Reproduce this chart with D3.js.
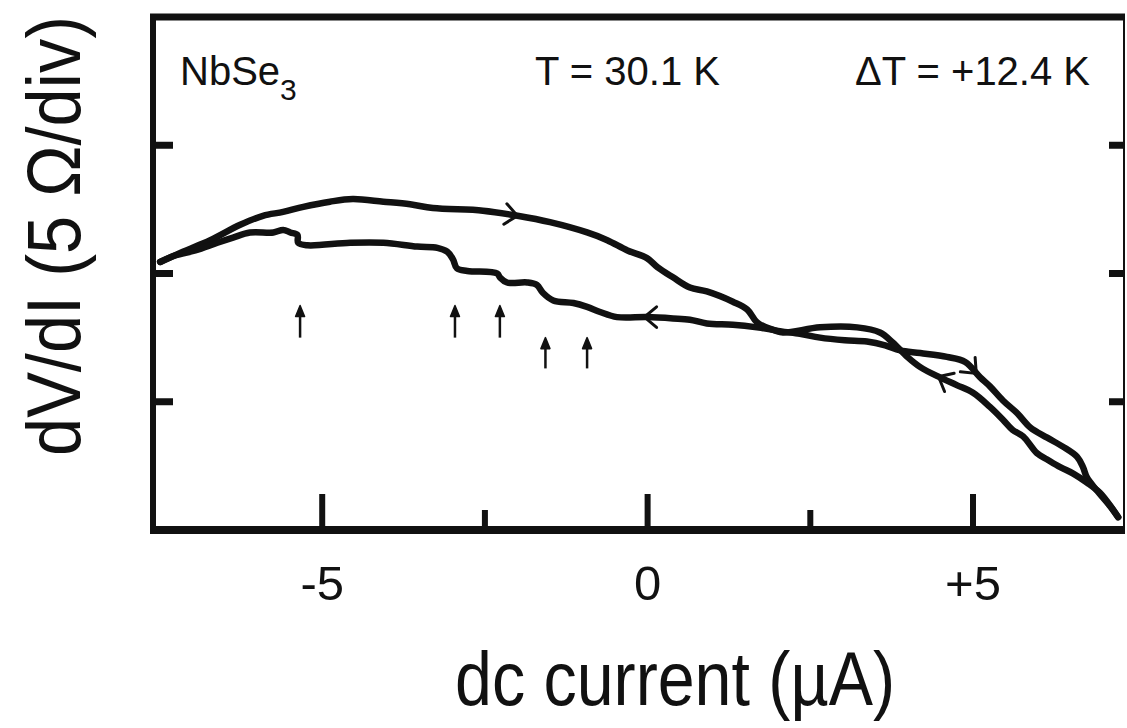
<!DOCTYPE html>
<html lang="en">
<head>
<meta charset="utf-8">
<title>NbSe3 dV/dI</title>
<script src="https://d3js.org/d3.v7.min.js"></script>
<style>
  body { margin: 0; background: #fff; }
  .lbl { font-family: "Liberation Sans", Arial, sans-serif; fill: #111; }
</style>
</head>
<body>
<div id="chart"></div>
<script>
var width = 1127, height = 728;

// x ticks (µA) and labels
var xTicks = [-5, 0, 5];
var xTickLabels = ["-5", "0", "+5"];
var xMinorTicks = [-2.5, 2.5];
// y divisions (5 Ω per div)
var yTicks = [1, 2, 3];

// forward sweep (left -> right), [current µA, dV/dI in div]
var forwardX = [-7.49, -7.14, -6.72, -6.26, -5.91, -5.60, -5.29, -4.88, -4.53, -4.06, -3.65, -3.30, -2.53, -2.00, -1.50, -0.93, -0.62, -0.31, -0.01, 0.15, 0.39, 0.65, 0.91, 1.31, 1.53, 1.68, 1.93, 2.34, 2.65, 3.03, 3.37, 3.65, 3.88, 4.19, 4.60, 4.88, 5.11, 5.26, 5.46, 5.68, 5.88, 6.14, 6.38, 6.60, 6.69, 6.75, 6.90, 7.10, 7.23];
var forwardY = [2.09, 2.17, 2.26, 2.38, 2.45, 2.48, 2.52, 2.56, 2.58, 2.56, 2.54, 2.51, 2.49, 2.45, 2.40, 2.32, 2.26, 2.18, 2.12, 2.05, 1.97, 1.89, 1.86, 1.78, 1.72, 1.62, 1.56, 1.53, 1.50, 1.48, 1.47, 1.44, 1.40, 1.38, 1.35, 1.31, 1.19, 1.12, 1.01, 0.91, 0.80, 0.72, 0.65, 0.57, 0.49, 0.41, 0.31, 0.19, 0.10];

// return sweep (right -> left)
var returnX = [7.23, 7.15, 6.95, 6.75, 6.54, 6.34, 6.14, 5.98, 5.77, 5.61, 5.46, 5.26, 5.00, 4.75, 4.49, 4.19, 3.99, 3.77, 3.57, 3.22, 2.65, 2.08, 1.93, 1.68, 1.31, 0.91, 0.65, 0.39, -0.01, -0.47, -0.73, -0.93, -1.14, -1.45, -1.61, -1.70, -1.85, -2.16, -2.27, -2.31, -2.77, -2.93, -2.99, -3.08, -3.23, -3.54, -4.06, -4.57, -5.23, -5.37, -5.38, -5.49, -5.60, -5.75, -6.11, -6.37, -6.61, -6.95, -7.26, -7.49];
var returnY = [0.10, 0.16, 0.29, 0.37, 0.44, 0.49, 0.55, 0.60, 0.73, 0.78, 0.86, 0.96, 1.07, 1.13, 1.19, 1.27, 1.35, 1.46, 1.54, 1.58, 1.58, 1.54, 1.56, 1.58, 1.60, 1.61, 1.64, 1.65, 1.66, 1.66, 1.70, 1.74, 1.77, 1.79, 1.85, 1.91, 1.93, 1.93, 1.97, 2.00, 2.02, 2.04, 2.11, 2.17, 2.20, 2.21, 2.24, 2.24, 2.22, 2.24, 2.30, 2.32, 2.34, 2.32, 2.32, 2.28, 2.24, 2.18, 2.14, 2.09];

// sweep direction arrows on the curves
var forwardArrowX = [-2.0, 5.05];
var returnArrowX = [-0.05, 4.47];

// step markers (vertical arrows): x, tip, tail (div)
var markerX = [-5.34, -2.96, -2.27, -1.57, -0.93];
var markerTip = [1.75, 1.75, 1.75, 1.50, 1.50];
var markerTail = [1.50, 1.50, 1.50, 1.26, 1.26];

var plotLeft = 153, plotRight = 1124, plotTop = 17, plotBottom = 530;

var x = d3.scaleLinear().domain([-7.6, 7.32]).range([plotLeft, plotRight]);
var y = d3.scaleLinear().domain([0, 4]).range([plotBottom, plotTop]);

var svg = d3.select("#chart").append("svg")
  .attr("width", width).attr("height", height);

svg.append("rect").attr("width", width).attr("height", height).attr("fill", "#fff");

// frame
var ink = "#111";
svg.append("line").attr("x1", plotLeft - 3).attr("x2", plotRight + 1).attr("y1", plotTop).attr("y2", plotTop)
  .attr("stroke", ink).attr("stroke-width", 7);
svg.append("line").attr("x1", plotLeft - 3).attr("x2", plotRight + 1).attr("y1", plotBottom).attr("y2", plotBottom)
  .attr("stroke", ink).attr("stroke-width", 8);
svg.append("line").attr("x1", plotLeft).attr("x2", plotLeft).attr("y1", plotTop).attr("y2", plotBottom)
  .attr("stroke", ink).attr("stroke-width", 6);
svg.append("line").attr("x1", plotRight).attr("x2", plotRight).attr("y1", plotTop).attr("y2", plotBottom)
  .attr("stroke", ink).attr("stroke-width", 2);

// bottom ticks
svg.selectAll("line.xmaj").data(xTicks).enter().append("line")
  .attr("class", "xmaj")
  .attr("x1", function(d) { return x(d); }).attr("x2", function(d) { return x(d); })
  .attr("y1", plotBottom).attr("y2", plotBottom - 36)
  .attr("stroke", ink).attr("stroke-width", 6);
svg.selectAll("line.xmin").data(xMinorTicks).enter().append("line")
  .attr("class", "xmin")
  .attr("x1", function(d) { return x(d); }).attr("x2", function(d) { return x(d); })
  .attr("y1", plotBottom).attr("y2", plotBottom - 20)
  .attr("stroke", ink).attr("stroke-width", 6);

// side ticks
svg.selectAll("line.yl").data(yTicks).enter().append("line")
  .attr("class", "yl")
  .attr("x1", plotLeft).attr("x2", plotLeft + 20)
  .attr("y1", function(d) { return y(d); }).attr("y2", function(d) { return y(d); })
  .attr("stroke", ink).attr("stroke-width", 7);
svg.selectAll("line.yr").data(yTicks).enter().append("line")
  .attr("class", "yr")
  .attr("x1", plotRight - 15).attr("x2", plotRight)
  .attr("y1", function(d) { return y(d); }).attr("y2", function(d) { return y(d); })
  .attr("stroke", ink).attr("stroke-width", 7);

// tick labels
svg.selectAll("text.xl").data(xTicks).enter().append("text")
  .attr("class", "lbl xl")
  .attr("x", function(d) { return x(d); })
  .attr("y", 600)
  .attr("text-anchor", "middle")
  .attr("font-size", 49)
  .text(function(d, i) { return xTickLabels[i]; });

// axis titles
svg.append("text").attr("class", "lbl")
  .attr("x", 675).attr("y", 705)
  .attr("text-anchor", "middle")
  .attr("font-size", 76)
  .attr("textLength", 440).attr("lengthAdjust", "spacingAndGlyphs")
  .text("dc current (\u00B5A)");

svg.append("text").attr("class", "lbl")
  .attr("transform", "translate(80,236) rotate(-90)")
  .attr("text-anchor", "middle")
  .attr("font-size", 76)
  .attr("textLength", 440).attr("lengthAdjust", "spacingAndGlyphs")
  .text("dV/dI (5 \u03A9/div)");

// annotations
var nb = svg.append("text").attr("class", "lbl")
  .attr("x", 180).attr("y", 85).attr("font-size", 40);
nb.append("tspan").text("NbSe");
nb.append("tspan").attr("font-size", 30).attr("dy", 15).text("3");

svg.append("text").attr("class", "lbl")
  .attr("x", 535).attr("y", 85).attr("font-size", 40)
  .text("T = 30.1 K");
svg.append("text").attr("class", "lbl")
  .attr("x", 855).attr("y", 85).attr("font-size", 40)
  .text("\u0394T = +12.4 K");

// curves
var line = d3.line()
  .x(function(d) { return x(d[0]); })
  .y(function(d) { return y(d[1]); })
  .curve(d3.curveCatmullRom.alpha(0.5));

var forward = forwardX.map(function(v, i) { return [v, forwardY[i]]; });
var back = returnX.map(function(v, i) { return [v, returnY[i]]; });

[forward, back].forEach(function(pts) {
  svg.append("path")
    .attr("d", line(pts))
    .attr("fill", "none")
    .attr("stroke", ink)
    .attr("stroke-width", 6.5)
    .attr("stroke-linejoin", "round")
    .attr("stroke-linecap", "round");
});

// chevron along the curve at given x, pointing in sweep direction
function chevron(pts, xv, dir) {
  var i = 0;
  for (var k = 0; k < pts.length - 1; k++) {
    var a = pts[k][0], b = pts[k + 1][0];
    if ((xv - a) * (xv - b) <= 0) { i = k; break; }
  }
  var p0 = pts[i], p1 = pts[i + 1];
  var t = (xv - p0[0]) / (p1[0] - p0[0]);
  var yv = p0[1] + t * (p1[1] - p0[1]);
  var px = x(xv), py = y(yv);
  var ang = Math.atan2(y(p1[1]) - y(p0[1]), x(p1[0]) - x(p0[0]));
  if (Math.cos(ang) * dir < 0) ang += Math.PI;
  var len = 16, spread = 0.7;
  var a1 = ang + Math.PI - spread, a2 = ang + Math.PI + spread;
  var d = "M" + (px + len * Math.cos(a1)) + "," + (py + len * Math.sin(a1)) +
          "L" + px + "," + py +
          "L" + (px + len * Math.cos(a2)) + "," + (py + len * Math.sin(a2));
  svg.append("path").attr("d", d).attr("fill", "none")
    .attr("stroke", ink).attr("stroke-width", 3).attr("stroke-linecap", "round");
}
forwardArrowX.forEach(function(v) { chevron(forward, v, 1); });
returnArrowX.forEach(function(v) { chevron(back, v, -1); });

// step markers
markerX.forEach(function(v, i) {
  var px = x(v), ty = y(markerTip[i]), by = y(markerTail[i]);
  svg.append("line").attr("x1", px).attr("x2", px).attr("y1", ty + 8).attr("y2", by)
    .attr("stroke", ink).attr("stroke-width", 2.5);
  svg.append("path")
    .attr("d", "M" + (px - 4.5) + "," + (ty + 11) + "L" + px + "," + ty + "L" + (px + 4.5) + "," + (ty + 11) + "Z")
    .attr("fill", ink).attr("stroke", ink).attr("stroke-width", 1.5).attr("stroke-linejoin", "round");
});
</script>
</body>
</html>
